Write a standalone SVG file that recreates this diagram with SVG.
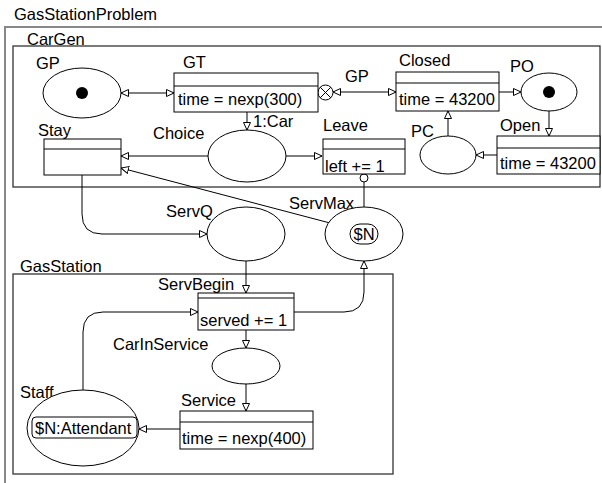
<svg xmlns="http://www.w3.org/2000/svg" width="602" height="483" viewBox="0 0 602 483">
<defs>
<style>
text{font-family:"Liberation Sans",Arial,sans-serif;font-size:16.5px;fill:#000}
.pl{fill:#fff;stroke:#000;stroke-width:1}
.tr{fill:#fff;stroke:#000;stroke-width:1}
.fr{fill:none;stroke:#333;stroke-width:1.3}
.arc{fill:none;stroke:#000;stroke-width:1}
.a{marker-end:url(#ah)}
.b{marker-start:url(#ah);marker-end:url(#ah)}
</style>
<marker id="ah" markerWidth="10" markerHeight="10" refX="8" refY="4" orient="auto-start-reverse" markerUnits="userSpaceOnUse">
<path d="M0.5,0.5 L8,4 L0.5,7.5 z" fill="#fff" stroke="#000" stroke-width="1"/>
</marker>
</defs>
<rect width="602" height="483" fill="#fff"/>

<g id="GasStationProblem">
<text x="14" y="20">GasStationProblem</text>
<path d="M5,490 V27 H602" fill="none" stroke="#888" stroke-width="2"/>
</g>

<g id="CarGen">
<text x="27" y="45">CarGen</text>
<rect class="fr" x="13" y="46" width="587" height="141"/>
</g>

<g id="GasStation">
<text x="20" y="272">GasStation</text>
<rect class="fr" x="13" y="274" width="380" height="200"/>
</g>

<g id="connectors">
<line class="arc b" x1="121" y1="93" x2="174" y2="93"/>
<line class="arc b" x1="333" y1="92" x2="396" y2="92"/>
<line class="arc a" x1="499" y1="92" x2="521" y2="92"/>
<line class="arc a" x1="549" y1="111" x2="549" y2="136"/>
<line class="arc a" x1="497" y1="155" x2="476" y2="155"/>
<line class="arc a" x1="448" y1="136" x2="448" y2="111"/>
<line class="arc a" x1="247" y1="112" x2="247" y2="130"/>
<line class="arc a" x1="286" y1="156" x2="322" y2="156"/>
<line class="arc a" x1="208" y1="156" x2="121" y2="156"/>
<line class="arc a" x1="330" y1="223" x2="121" y2="168"/>
<path class="arc a" d="M82,175 V214 Q82,234 102,234 H207"/>
<line class="arc" x1="364" y1="207" x2="364" y2="182"/>
<circle cx="364" cy="178" r="4" fill="#fff" stroke="#000"/>
<line class="arc a" x1="246" y1="261" x2="246" y2="293"/>
<path class="arc a" d="M294,312 H344 Q364,312 364,292 V261"/>
<path class="arc a" d="M83,390 V332 Q83,312 103,312 H198"/>
<line class="arc a" x1="246" y1="330" x2="246" y2="348"/>
<line class="arc a" x1="246" y1="384" x2="246" y2="411"/>
<line class="arc a" x1="180" y1="429" x2="139" y2="429"/>
<text x="345" y="82">GP</text>
<text x="253" y="127">1:Car</text>
<g id="xcircle">
<circle cx="325.5" cy="92.5" r="7.5" fill="#fff" stroke="#000"/>
<path d="M320.2,87.2 L330.8,97.8 M330.8,87.2 L320.2,97.8" stroke="#000" stroke-width="1"/>
</g>
</g>

<g id="GP">
<text x="36" y="69">GP</text>
<ellipse class="pl" cx="82" cy="93" rx="39" ry="25"/>
<circle cx="82" cy="93" r="6" fill="#000"/>
</g>

<g id="GT">
<text x="183" y="68">GT</text>
<rect class="tr" x="174" y="73" width="144" height="39"/>
<line class="arc" x1="174" y1="86" x2="318" y2="86"/>
<text x="178" y="105">time = nexp(300)</text>
</g>

<g id="Closed">
<text x="399" y="66">Closed</text>
<rect class="tr" x="396" y="72" width="103" height="39"/>
<line class="arc" x1="396" y1="83" x2="499" y2="83"/>
<text x="399" y="105">time = 43200</text>
</g>

<g id="PO">
<text x="510" y="72">PO</text>
<ellipse class="pl" cx="549" cy="92" rx="28" ry="19"/>
<circle cx="549" cy="92" r="6" fill="#000"/>
</g>

<g id="Open">
<text x="500" y="131">Open</text>
<rect class="tr" x="497" y="136" width="103" height="38"/>
<line class="arc" x1="497" y1="148" x2="600" y2="148"/>
<text x="500" y="169">time = 43200</text>
</g>

<g id="PC">
<text x="411" y="137">PC</text>
<ellipse class="pl" cx="448" cy="155" rx="28" ry="19"/>
</g>

<g id="Choice">
<text x="153" y="139">Choice</text>
<ellipse class="pl" cx="247" cy="156" rx="39" ry="26"/>
</g>

<g id="Leave">
<text x="323" y="131">Leave</text>
<rect class="tr" x="323" y="139" width="82" height="35"/>
<line class="arc" x1="323" y1="149" x2="405" y2="149"/>
<text x="325" y="172">left += 1</text>
</g>

<g id="Stay">
<text x="38" y="136">Stay</text>
<rect class="tr" x="44" y="139" width="77" height="36"/>
<line class="arc" x1="44" y1="149" x2="121" y2="149"/>
</g>

<g id="ServQ">
<text x="166" y="217">ServQ</text>
<ellipse class="pl" cx="246" cy="234" rx="39" ry="27"/>
</g>

<g id="ServMax">
<text x="289" y="209">ServMax</text>
<ellipse class="pl" cx="364" cy="234" rx="39" ry="27"/>
<rect x="350" y="224" width="28" height="20" rx="10" ry="10" fill="none" stroke="#000"/>
<text x="364" y="240" text-anchor="middle">$N</text>
</g>

<g id="ServBegin">
<text x="158" y="290">ServBegin</text>
<rect class="tr" x="198" y="293" width="96" height="37"/>
<line class="arc" x1="198" y1="298" x2="294" y2="298"/>
<text x="200" y="326">served += 1</text>
</g>

<g id="CarInService">
<text x="113" y="350">CarInService</text>
<ellipse class="pl" cx="246" cy="366" rx="34" ry="18"/>
</g>

<g id="Service">
<text x="181" y="406">Service</text>
<rect class="tr" x="180" y="411" width="133" height="38"/>
<line class="arc" x1="180" y1="422" x2="313" y2="422"/>
<text x="182" y="444">time = nexp(400)</text>
</g>

<g id="Staff">
<text x="20" y="398">Staff</text>
<ellipse class="pl" cx="83" cy="428" rx="56" ry="38"/>
<rect x="32" y="417" width="105" height="21" rx="4" ry="4" fill="none" stroke="#000"/>
<text x="35" y="434">$N:Attendant</text>
</g>
</svg>
